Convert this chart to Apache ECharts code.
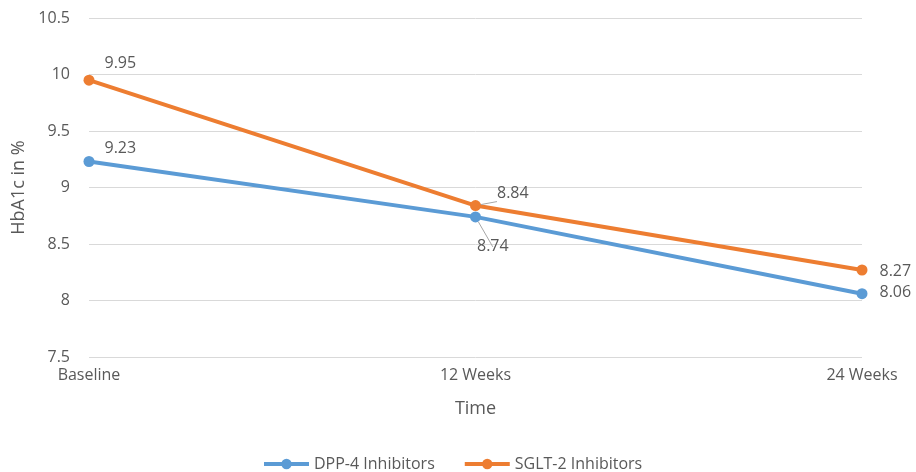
<!DOCTYPE html>
<html><head><meta charset="utf-8">
<script src="https://cdn.jsdelivr.net/npm/echarts@6/dist/echarts.min.js"></script>
<style>html,body{margin:0;padding:0;background:#fff}#c{width:916px;height:472px}</style>
</head><body><div id="c"></div>
<script>
var categories = ['Baseline', '12 Weeks', '24 Weeks'];
var dppValues = [9.23, 8.74, 8.06];
var sgltValues = [9.95, 8.84, 8.27];
var seriesNames = ['DPP-4 Inhibitors', 'SGLT-2 Inhibitors'];

var FONT = '"Open Sans", Lato, sans-serif';
var TXT = '#595959';
var dppOffsets = [[5, -13], [-9, 30], [7, -1]];
var sgltOffsets = [[5, -17], [11, -12], [7, 1]];

function mk(vals, offs, leader) {
  return vals.map(function (v, i) {
    var d = { value: v, label: { offset: offs[i] } };
    if (leader[i]) d.labelLine = { show: true, lineStyle: { color: '#a6a6a6', width: 1 } };
    return d;
  });
}

var chart = echarts.init(document.getElementById('c'));
chart.setOption({
  animation: false,
  textStyle: { fontFamily: FONT },
  grid: { left: 89, right: 54, top: 18, bottom: 115 },
  legend: {
    top: 451, left: 257, itemWidth: 45, itemHeight: 13, itemGap: 28,
    textStyle: { color: TXT, fontSize: 16, fontFamily: FONT },
    lineStyle: { width: 4 },
    data: seriesNames
  },
  xAxis: {
    type: 'category', data: categories, boundaryGap: false,
    name: 'Time', nameLocation: 'middle', nameGap: 43,
    nameTextStyle: { color: TXT, fontSize: 18, fontFamily: FONT },
    axisLine: { show: false }, axisTick: { show: false },
    axisLabel: { color: TXT, fontSize: 16, margin: 10, fontFamily: FONT },
    splitLine: { show: false }
  },
  yAxis: {
    type: 'value', min: 7.5, max: 10.5, interval: 0.5,
    name: 'HbA1c in %', nameLocation: 'middle', nameGap: 60, nameRotate: 90,
    nameTextStyle: { color: TXT, fontSize: 18, fontFamily: FONT },
    axisLine: { show: false }, axisTick: { show: false },
    axisLabel: { color: TXT, fontSize: 16, margin: 19, fontFamily: FONT },
    splitLine: { lineStyle: { color: '#d9d9d9', width: 1 } }
  },
  series: [
    { name: seriesNames[0], type: 'line', data: mk(dppValues, dppOffsets, [false, true, false]),
      color: '#5B9BD5', lineStyle: { width: 4 }, symbol: 'circle', symbolSize: 11,
      label: { show: true, position: 'right', color: TXT, fontSize: 16, fontFamily: FONT } },
    { name: seriesNames[1], type: 'line', data: mk(sgltValues, sgltOffsets, [false, true, false]),
      color: '#ED7D31', lineStyle: { width: 4 }, symbol: 'circle', symbolSize: 11,
      label: { show: true, position: 'right', color: TXT, fontSize: 16, fontFamily: FONT } }
  ]
});
</script></body></html>
